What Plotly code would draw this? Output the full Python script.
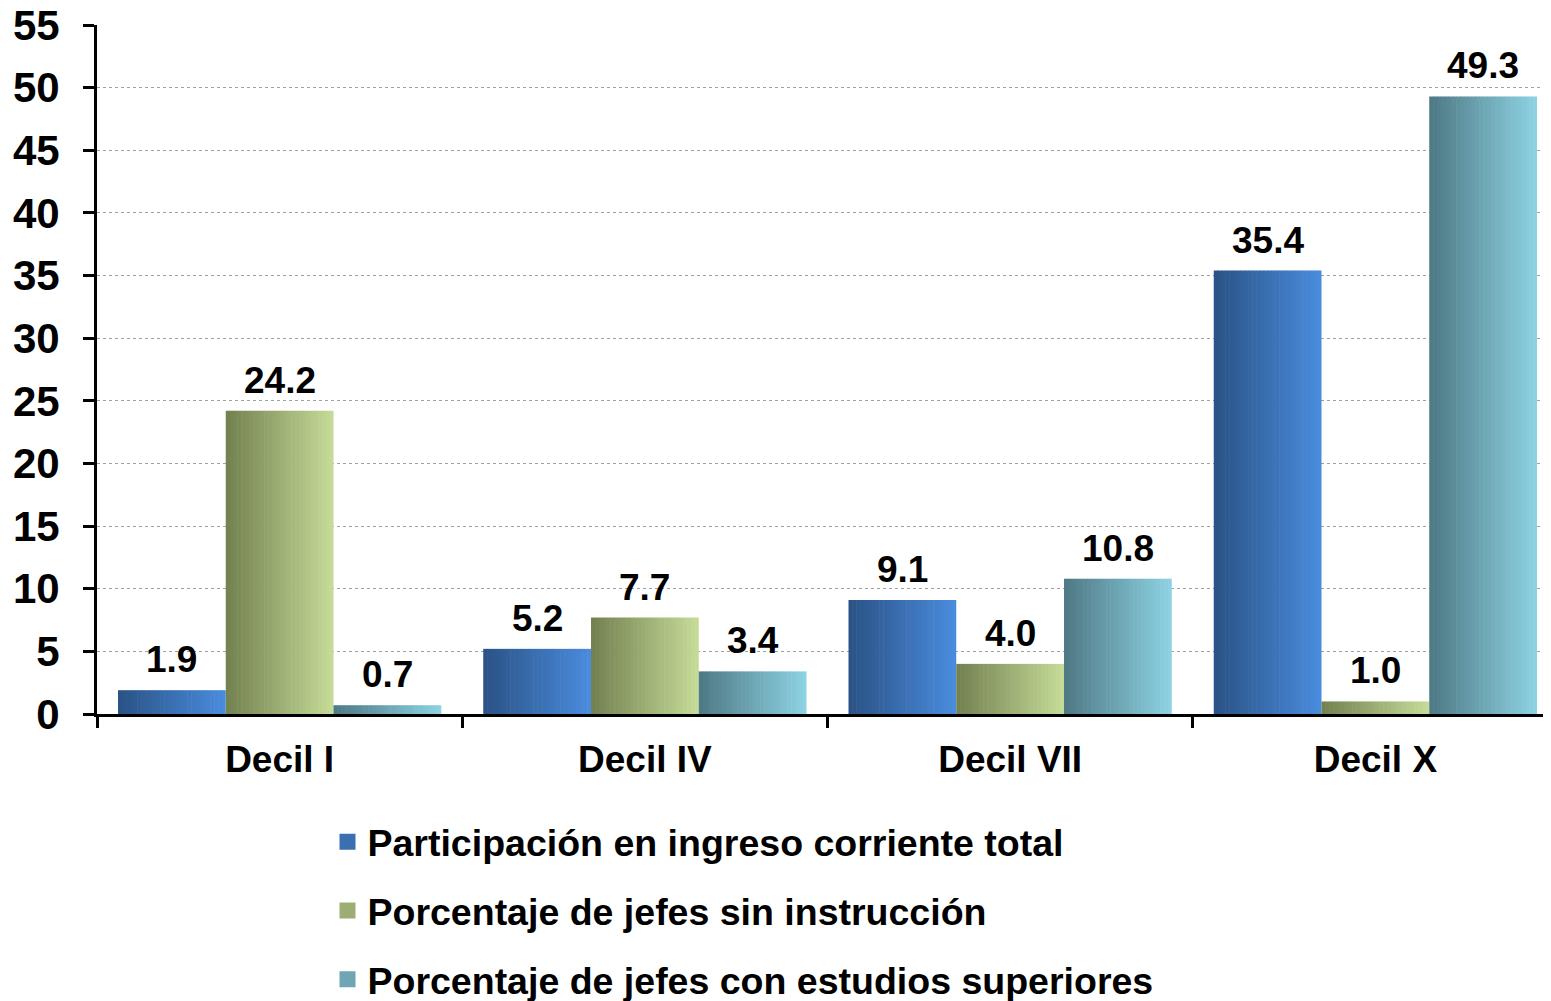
import plotly.graph_objects as go

categories = ["Decil I", "Decil IV", "Decil VII", "Decil X"]
series_names = [
    "Participación en ingreso corriente total",
    "Porcentaje de jefes sin instrucción",
    "Porcentaje de jefes con estudios superiores",
]
ingreso = [1.9, 5.2, 9.1, 35.4]
sin_instruccion = [24.2, 7.7, 4.0, 1.0]
estudios_superiores = [0.7, 3.4, 10.8, 49.3]
y_ticks = list(range(0, 60, 5))

series_values = [ingreso, sin_instruccion, estudios_superiores]
# gradient end colours (dark left -> light right)
grad = [
    ((0x2A, 0x52, 0x85), (0x4A, 0x8C, 0xDE)),
    ((0x72, 0x80, 0x50), (0xC6, 0xDC, 0x98)),
    ((0x4E, 0x78, 0x84), (0x8E, 0xD4, 0xE4)),
]

FONT = "Liberation Sans, Arial, sans-serif"
bar_w = 0.295
start = -1.5 * bar_w
N = 28

fig = go.Figure()

def mix(a, b, t):
    return "rgb(%d,%d,%d)" % tuple(round(a[k] + (b[k] - a[k]) * t) for k in range(3))

for s, vals in enumerate(series_values):
    c0, c1 = grad[s]
    off0 = start + s * bar_w
    sw = bar_w / N
    for i in range(N):
        t = (i + 0.5) / N
        w = sw * 1.15 if i < N - 1 else sw
        fig.add_trace(go.Bar(
            x=categories, y=vals,
            width=[w] * len(categories),
            offset=[off0 + i * sw] * len(categories),
            marker=dict(color=mix(c0, c1, t), line=dict(width=0)),
            showlegend=False, hoverinfo="skip",
        ))
    # labels
    for j, v in enumerate(vals):
        fig.add_annotation(
            x=j + off0 + bar_w / 2, y=v, text="%.1f" % v,
            showarrow=False, yanchor="bottom", yshift=8,
            font=dict(family=FONT, size=37, color="black", weight="bold"),
        )
    # legend entry
    fig.add_trace(go.Scatter(
        x=[None], y=[None], mode="markers", name=series_names[s],
        marker=dict(symbol="square", size=16, color=mix(c0, c1, 0.5)),
        legendgroup=str(s),
    ))

fig.update_layout(
    width=1551, height=1001,
    barmode="overlay",
    plot_bgcolor="white", paper_bgcolor="white",
    margin=dict(l=89, r=1, t=17, b=295, autoexpand=False),
    font=dict(family=FONT, size=37, color="black", weight="bold"),
    hovermode=False,
    legend=dict(
        xref="container", yref="container",
        x=0.206, y=0.198, xanchor="left", yanchor="top",
        font=dict(family=FONT, size=37.5, color="black", weight="bold"),
        tracegroupgap=17, bgcolor="rgba(0,0,0,0)",
    ),
)
fig.update_xaxes(
    type="category", range=[-0.5, 3.5],
    showline=True, linecolor="black", linewidth=3,
    ticks="outside", tickson="boundaries", ticklen=11, tickwidth=3, tickcolor="black",
    tickfont=dict(family=FONT, size=37, color="black", weight="bold"),
    ticklabelstandoff=11, tickangle=0,
    showgrid=False, zeroline=False,
)
fig.update_yaxes(
    range=[0, 55], tickvals=y_ticks,
    showline=True, linecolor="black", linewidth=3,
    ticks="outside", ticklen=11, tickwidth=3, tickcolor="black",
    tickfont=dict(family=FONT, size=42, color="black", weight="bold"),
    ticklabelstandoff=15, ticklabeloverflow="allow",
    showgrid=True, gridcolor="#a0a0a0", gridwidth=1.2, griddash="dot",
    zeroline=False,
)

fig.write_html("out.html")
